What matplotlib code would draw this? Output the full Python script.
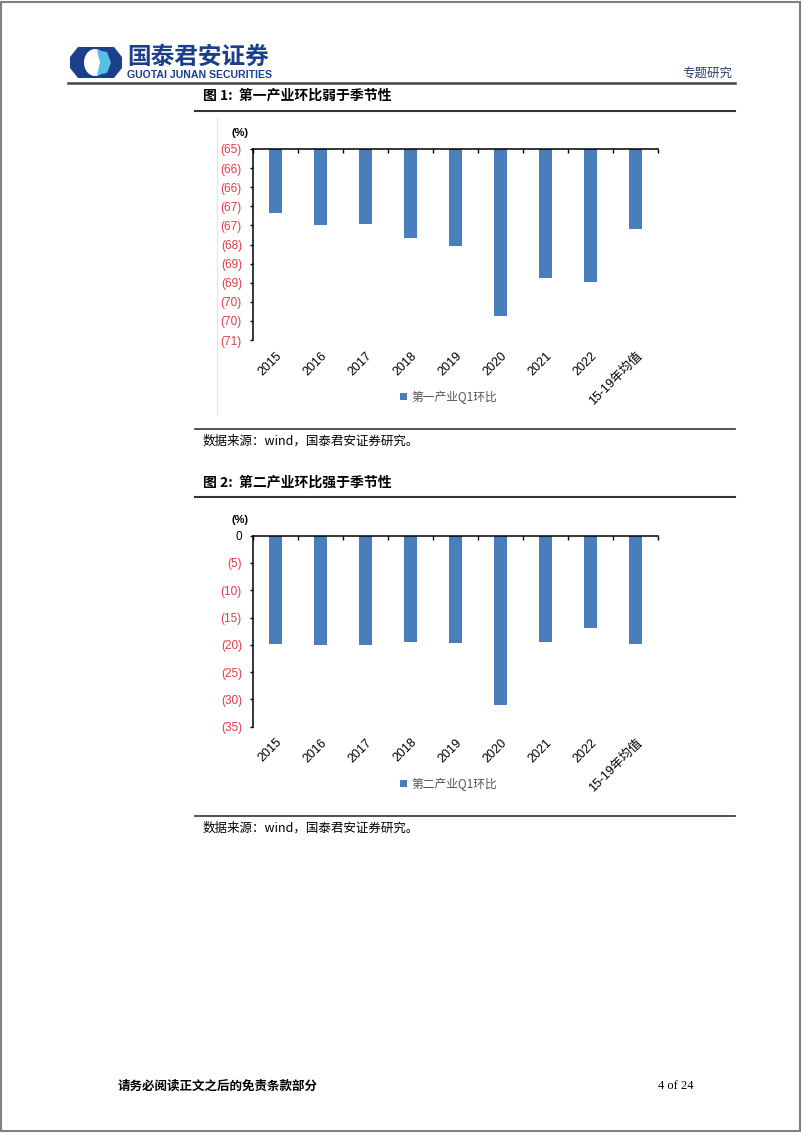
import numpy as np
import matplotlib
matplotlib.use("Agg")
import matplotlib.pyplot as plt
from matplotlib.patches import Polygon, Ellipse, Rectangle, Patch
from matplotlib.lines import Line2D

plt.rcParams['font.family'] = ['Liberation Sans', 'Noto Sans CJK SC', 'DejaVu Sans']

# ---------------- data ----------------
categories = ['2015', '2016', '2017', '2018', '2019', '2020', '2021', '2022', '15-19年均值']
primary_q1 = [-67.0, -67.4, -67.36, -67.8, -68.05, -70.26, -69.06, -69.19, -67.52]
secondary_q1 = [-19.9, -20.0, -20.0, -19.4, -19.7, -31.0, -19.5, -16.9, -19.8]
y1_ticks = [-65.0, -65.6, -66.2, -66.8, -67.4, -68.0, -68.6, -69.2, -69.8, -70.4, -71.0]
y2_ticks = [0, -5, -10, -15, -20, -25, -30, -35]
legend1 = '第一产业Q1环比'
legend2 = '第二产业Q1环比'
title1 = '图 1:  第一产业环比弱于季节性'
title2 = '图 2:  第二产业环比强于季节性'
source = '数据来源：wind，国泰君安证券研究。'

W, H = 802, 1133
fig = plt.figure(figsize=(W / 100, H / 100), dpi=100)


def fx(x):
    return x / W


def fy(y):
    return 1 - y / H


CJK = ['Noto Sans CJK SC', 'DejaVu Sans']
DARK_BLUE = '#1b3f8b'
BAR = '#4a7ebb'
RED = '#e23b45'


def hline(x0, x1, y, lw=1.2, color='#333333'):
    fig.add_artist(Line2D([fx(x0), fx(x1)], [fy(y), fy(y)], color=color, lw=lw,
                          transform=fig.transFigure))


# page border
fig.add_artist(Rectangle((fx(1), fy(1131)), fx(800) - fx(1), fy(2) - fy(1131),
                         fill=False, edgecolor='#808080', lw=1.5, transform=fig.transFigure))

# ---------------- header ----------------
def pxpoly(pts):
    return [(fx(x), fy(y)) for x, y in pts]


logo_outer = pxpoly([(70, 57), (78, 47), (114, 47), (122, 57), (122, 68), (114, 78), (78, 78), (70, 68)])
fig.add_artist(Polygon(logo_outer, closed=True, facecolor=DARK_BLUE, edgecolor='none',
                       transform=fig.transFigure))
fig.add_artist(Ellipse((fx(95), fy(62.5)), fx(22), 27 / H, facecolor='white', edgecolor='none',
                       transform=fig.transFigure))
fig.add_artist(Polygon(pxpoly([(97, 50), (107, 52), (111, 62.5), (107, 73), (97, 75), (100, 62.5)]),
                       closed=True, facecolor='#58c0e4', edgecolor='none', transform=fig.transFigure))

fig.text(fx(127), fy(56.5), '国泰君安证券', fontsize=17, fontweight='bold', color=DARK_BLUE,
         family=CJK, ha='left', va='center')
fig.text(fx(127), fy(74.5), 'GUOTAI JUNAN SECURITIES', fontsize=7.6, fontweight='bold',
         color=DARK_BLUE, family=['Liberation Sans'], ha='left', va='center')
fig.text(fx(732), fy(73), '专题研究', fontsize=9, color='#2a3f6e', family=CJK,
         ha='right', va='center')
hline(68, 735, 83, lw=1.8, color='#444444')

# ---------------- chart helpers ----------------
def section_title(text, y):
    fig.text(fx(203), fy(y), text, fontsize=10, fontweight='bold', family=CJK,
             ha='left', va='center', color='black')


def draw_chart(top_px, values, top, bottom, ticks, fmt, legend_text, legend_y):
    ax = fig.add_axes([fx(253), fy(top_px + 191), (658 - 253) / W, 191 / H])
    x = np.arange(len(categories))
    vals = np.array(values)
    ax.bar(x, vals - top, bottom=top, width=0.31, color=BAR, edgecolor='none', zorder=2)
    ax.set_xlim(-0.5, len(categories) - 0.5)
    ax.set_ylim(bottom, top)
    ax.set_yticks(ticks)
    labels = [fmt(t) for t in ticks]
    ax.set_yticklabels(labels)
    for t, lab in zip(ticks, ax.get_yticklabels()):
        lab.set_color('black' if t == 0 else RED)
    ax.tick_params(axis='y', which='major', direction='out', length=2.5, width=1,
                   pad=5.5, labelsize=8.5, left=True)
    ax.set_xticks(x)
    ax.set_xticklabels(categories, rotation=45, ha='right', rotation_mode='anchor')
    ax.tick_params(axis='x', which='major', length=0, bottom=False, top=False,
                   labelbottom=True, labelsize=9, pad=7)
    ax.set_xticks(np.arange(-0.5, len(categories)), minor=True)
    ax.tick_params(axis='x', which='minor', top=True, bottom=False, direction='in',
                   length=3, width=1)
    ax.spines['bottom'].set_visible(False)
    ax.spines['right'].set_visible(False)
    ax.spines['top'].set_linewidth(1.1)
    ax.spines['left'].set_linewidth(1.1)
    ax.patch.set_alpha(0)
    fig.text(fx(240), fy(top_px - 16), '(%)', fontsize=8, fontweight='bold',
             ha='center', va='center', family=['Liberation Sans'])
    handle = Patch(facecolor=BAR, edgecolor='none')
    fig.legend([handle], [legend_text], loc='center left',
               bbox_to_anchor=(fx(394), fy(legend_y)), frameon=False,
               handlelength=0.6, handleheight=0.6, handletextpad=0.4, borderpad=0,
               prop={'family': CJK, 'size': 8.5}, labelcolor='#555555')
    return ax


# ---------------- chart 1 ----------------
section_title(title1, 96)
hline(195, 735, 111, lw=1.5, color='#333333')
fig.add_artist(Line2D([fx(217), fx(217)], [fy(118), fy(415)], color='#e6e6e6', lw=1,
                      transform=fig.transFigure, zorder=0))
draw_chart(149, primary_q1, -65, -71, y1_ticks,
           lambda v: '({:.0f})'.format(abs(v)), legend1, 397)
hline(195, 735, 429, lw=1.2, color='#333333')
fig.text(fx(203), fy(441), source, fontsize=9, family=CJK, ha='left', va='center')

# ---------------- chart 2 ----------------
section_title(title2, 483)
hline(195, 735, 497, lw=1.5, color='#333333')
draw_chart(535.7, secondary_q1, 0, -35, y2_ticks,
           lambda v: '0' if v == 0 else '({:.0f})'.format(abs(v)), legend2, 784)
hline(195, 735, 816, lw=1.2, color='#333333')
fig.text(fx(203), fy(828), source, fontsize=9, family=CJK, ha='left', va='center')

# ---------------- footer ----------------
fig.text(fx(118), fy(1086), '请务必阅读正文之后的免责条款部分', fontsize=9, fontweight='bold',
         family=CJK, ha='left', va='center')
fig.text(fx(693), fy(1086), '4 of 24', fontsize=9, family=['Liberation Serif'],
         ha='right', va='center')

fig.savefig('out.png', dpi=100)
